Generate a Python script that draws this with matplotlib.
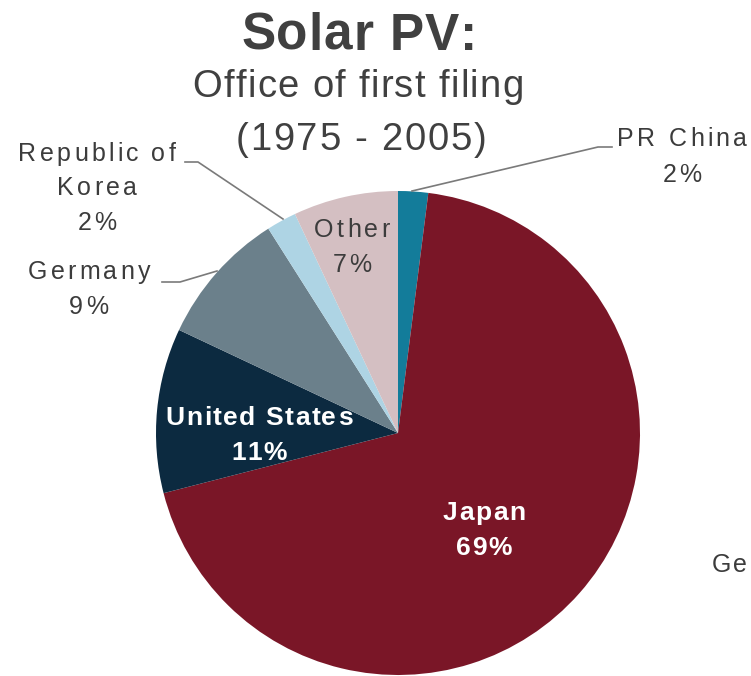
import matplotlib
matplotlib.use("Agg")
from matplotlib import pyplot as plt
from matplotlib import font_manager as fm
from matplotlib.ft2font import FT2Font

# data (clockwise from 12 o'clock)
offices = ["PR China", "Japan", "United States", "Germany", "Republic of\nKorea", "Other"]
shares = [2, 69, 11, 9, 2, 7]
colors = ["#137C9A", "#7A1627", "#0C2A40", "#6B808B", "#AED4E4", "#D4BFC2"]

W, H = 751, 676
DPI = 100
grey = "#3C3C3C"

fig = plt.figure(figsize=(W / DPI, H / DPI), dpi=DPI)
ax = fig.add_axes([0, 0, 1, 1])

# pie drawn in pixel space, centre given in picture coordinates
cx, cy, r = 398, H - 433, 242
ax.pie(shares, colors=colors, startangle=90, counterclock=False,
       center=(cx, cy), radius=r, frame=True,
       wedgeprops=dict(linewidth=0))
ax.set_xlim(0, W)
ax.set_ylim(0, H)
ax.set_aspect("equal")
ax.axis("off")


def tracked(x, base_y, s, size, track, bold=False, color=grey, ha="center"):
    # text with letter spacing, placed glyph by glyph (y is a baseline, from the top)
    prop = fm.FontProperties(family="Liberation Sans",
                             weight="bold" if bold else "normal")
    font = FT2Font(fm.findfont(prop))
    font.set_size(size, DPI)
    adv = [font.load_char(ord(c)).linearHoriAdvance / 65536 for c in s]
    total = sum(adv) + track * (len(s) - 1)
    cur = x - total / 2 if ha == "center" else x
    for c, a in zip(s, adv):
        if c != " ":
            ax.text(cur, H - base_y, c, fontproperties=prop, fontsize=size,
                    ha="left", va="baseline", color=color)
        cur += a + track


def label(x, baselines, name, share, size, track, bold=False, color=grey):
    lines = name.split("\n") + [f"{share}%"]
    for line, b in zip(lines, baselines):
        tracked(x, b, line, size, track, bold=bold, color=color)


# titles
tracked(359, 50, "Solar PV:", 37, 0.9, bold=True, color="#404040")
tracked(358, 97, "Office of first filing", 27.5, 1.3, color="#404040")
tracked(361, 150, "(1975 - 2005)", 27.5, 1.8, color="#404040")

# outside labels
label(97, [161, 195, 230], offices[4], shares[4], 18, 3.2)
label(89, [279, 314], offices[3], shares[3], 18, 3.2)
label(682, [146, 182], offices[0], shares[0], 18, 3.2)
label(352, [237, 272], offices[5], shares[5], 18, 3.2)

# inside labels
label(259, [425, 460], offices[2], shares[2], 19, 1.5, bold=True, color="white")
label(484, [520, 555], offices[1], shares[1], 19, 1.5, bold=True, color="white")

# cut-off label from the neighbouring chart
tracked(712, 572, "Ge", 18, 2.0, ha="left")

# leader lines (picture coordinates)
leaders = [
    [(412, 191), (598, 147), (612, 147)],
    [(185, 162), (198, 162), (283, 219)],
    [(162, 282), (180, 282), (217, 271)],
]
for pts in leaders:
    xs = [p[0] for p in pts]
    ys = [H - p[1] for p in pts]
    ax.plot(xs, ys, color="#7A7A7A", linewidth=1.2)

fig.savefig("out.png", dpi=DPI)
